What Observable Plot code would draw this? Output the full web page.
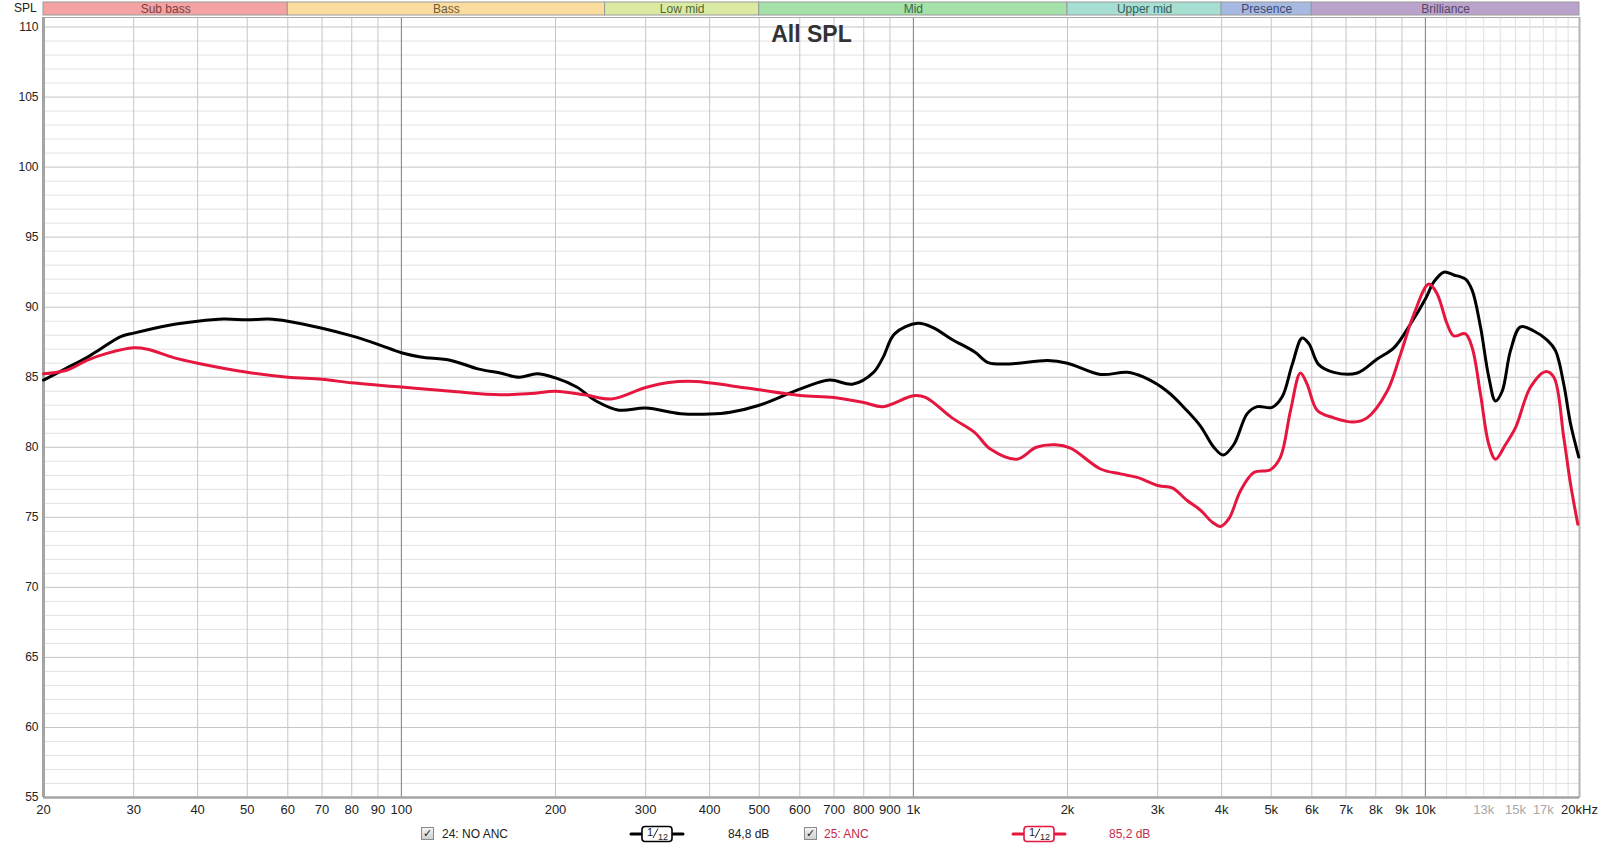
<!DOCTYPE html>
<html>
<head>
<meta charset="utf-8">
<script src="https://cdn.jsdelivr.net/npm/d3@7"></script>
<script src="https://cdn.jsdelivr.net/npm/@observablehq/plot@0.6"></script>
<style>
  html, body { margin: 0; padding: 0; background: #fff; }
  #wrap { position: relative; width: 1600px; height: 848px; overflow: hidden; font-family: "Liberation Sans", Arial, sans-serif; }
  #wrap svg { position: absolute; left: 0; }
  .abs { position: absolute; white-space: nowrap; }
  .cb { position: absolute; width: 11px; height: 11px; border: 1px solid #8a8a8a; background: linear-gradient(#f4f4f4, #cfcfcf); font: bold 11px "DejaVu Sans", sans-serif; line-height: 11px; text-align: center; color: #222; }
  .lg { position: absolute; font-size: 12px; line-height: 14px; }
</style>
</head>
<body>
<div id="wrap"></div>
<script>
// ---------- data ----------
const bandNames  = ["Sub bass", "Bass", "Low mid", "Mid", "Upper mid", "Presence", "Brilliance"];
const bandStart  = [20, 60, 250, 500, 2000, 4000, 6000];
const bandEnd    = [60, 250, 500, 2000, 4000, 6000, 20000];
const bandFill   = ["#f4a2a2", "#f9dc9e", "#dbeaa2", "#a4e2aa", "#a6ded2", "#a6b9e0", "#b9a3cb"];
const bandText   = ["#7a4040", "#6e5c38", "#506838", "#3e6446", "#355c58", "#3e4a72", "#5a4468"];

const yTicks = [55, 60, 65, 70, 75, 80, 85, 90, 95, 100, 105, 110];
const xTickValues = [20, 30, 40, 50, 60, 70, 80, 90, 100, 200, 300, 400, 500, 600, 700, 800, 900,
                     1000, 2000, 3000, 4000, 5000, 6000, 7000, 8000, 9000, 10000, 20000];
const xTickLabels = ["20", "30", "40", "50", "60", "70", "80", "90", "100", "200", "300", "400", "500", "600", "700", "800", "900",
                     "1k", "2k", "3k", "4k", "5k", "6k", "7k", "8k", "9k", "10k", "20kHz"];
const xGrayTickValues = [13000, 15000, 17000];
const xGrayTickLabels = ["13k", "15k", "17k"];

const gridMinorX = [20, 30, 40, 50, 60, 70, 80, 90, 200, 300, 400, 500, 600, 700, 800, 900,
                    2000, 3000, 4000, 5000, 6000, 7000, 8000, 9000];
const gridDecadeX = [100, 1000, 10000];
const gridFineX = [11000, 12000, 13000, 14000, 15000, 16000, 17000, 18000, 19000];

// 24: NO ANC (black)
const freqNoAnc = [20, 22.2, 24.3, 25.8, 28.3, 30, 35, 40, 45, 50, 55, 60, 70, 80, 90, 100, 109, 125, 141, 156,
  170, 184, 200, 220, 240, 266, 300, 351, 400, 439, 500, 600, 686, 760, 836, 872, 919, 1019, 1092, 1190,
  1318, 1400, 1540, 1830, 2000, 2320, 2616, 2818, 3130, 3426, 3640, 3862, 4028, 4226, 4488, 4694, 5021,
  5252, 5494, 5745, 5922, 6191, 6624, 7358, 8052, 8680, 9354, 10006, 10388, 10866, 11366, 11976, 12344,
  12812, 13302, 13708, 14126, 14664, 15340, 16288, 17296, 17954, 18634, 19206, 19936];
const splNoAnc = [84.8, 85.65, 86.4, 87.0, 87.9, 88.15, 88.7, 89.0, 89.15, 89.1, 89.15, 89.0, 88.5, 87.95, 87.35, 86.75, 86.45, 86.2, 85.6, 85.3,
  85.0, 85.25, 84.95, 84.3, 83.3, 82.65, 82.8, 82.4, 82.37, 82.5, 83.0, 84.15, 84.8, 84.5, 85.35, 86.4, 88.1, 88.85, 88.55, 87.7,
  86.8, 86.05, 85.95, 86.2, 86.0, 85.2, 85.35, 85.0, 84.0, 82.6, 81.5, 80.0, 79.45, 80.2, 82.4, 82.9, 82.85,
  83.6, 85.9, 87.8, 87.4, 85.9, 85.35, 85.3, 86.3, 87.1, 88.8, 90.6, 91.8, 92.5, 92.3, 92.0, 91.2,
  88.6, 85.0, 83.3, 84.0, 86.9, 88.6, 88.3, 87.65, 86.9, 84.5, 81.7, 79.3];

// 25: ANC (red)
const freqAnc = [20, 22.2, 24.3, 26.6, 30, 31.9, 35.9, 40, 50, 60, 70, 80, 100, 125, 156, 179, 200, 228, 257, 300,
  333, 376, 439, 500, 600, 700, 800, 872, 1000, 1056, 1190, 1318, 1414, 1594, 1738, 1894, 2028, 2320, 2538,
  2736, 3016, 3203, 3426, 3640, 3835, 3981, 4133, 4355, 4623, 4982, 5212, 5451, 5702, 5876, 6146, 6624,
  7246, 7694, 8420, 8944, 9496, 10156, 10544, 11030, 11366, 11976, 12344, 12812, 13302, 13708, 14340,
  14998, 16048, 17168, 17820, 18634, 19206, 19850];
const splAnc = [85.25, 85.5, 86.2, 86.7, 87.1, 87.0, 86.4, 86.0, 85.35, 85.0, 84.85, 84.6, 84.3, 84.0, 83.75, 83.84, 84.0, 83.75, 83.45, 84.27,
  84.63, 84.7, 84.4, 84.1, 83.7, 83.56, 83.2, 82.9, 83.68, 83.56, 82.1, 81.05, 79.87, 79.15, 80.0, 80.18, 79.94, 78.45, 78.1,
  77.85, 77.25, 77.1, 76.2, 75.5, 74.65, 74.35, 74.9, 76.9, 78.2, 78.4, 79.3, 82.6, 85.3, 84.5, 82.65, 82.1,
  81.8, 82.1, 84.0, 86.65, 89.5, 91.65, 90.95, 88.8, 87.95, 88.1, 87.1, 83.8, 80.2, 79.15, 80.2,
  81.4, 84.3, 85.4, 85.0, 80.7, 77.4, 74.5];

const seriesNames = ["24: NO ANC", "25: ANC"];
const seriesColors = ["#000000", "#e5173f"];
const seriesTextColors = ["#222222", "#c42a4e"];
const seriesLevels = ["84,8 dB", "85,2 dB"];

// ---------- build tables ----------
const noAnc = freqNoAnc.map((f, i) => ({f, db: splNoAnc[i]}));
const anc = freqAnc.map((f, i) => ({f, db: splAnc[i]}));
const bands = bandNames.map((name, i) => ({name, x1: bandStart[i], x2: bandEnd[i], fill: bandFill[i], tc: bandText[i], xm: Math.sqrt(bandStart[i] * bandEnd[i])}));
const minorDb = d3.range(55, 111).filter(v => v % 5 !== 0);
const xLabels = xTickValues.map((v, i) => ({v, t: xTickLabels[i], c: "#222"}))
  .concat(xGrayTickValues.map((v, i) => ({v, t: xGrayTickLabels[i], c: "#a8a8a8"})));

const M = {marginLeft: 43, marginRight: 21};
const xScale = {type: "log", domain: [20, 20000]};
const wrap = document.getElementById("wrap");
const FONT = "Liberation Sans, Arial, sans-serif";

// ---------- main chart ----------
const main = Plot.plot({
  width: 1600, height: 810, ...M, marginTop: 1, marginBottom: 29,
  style: {fontFamily: FONT, background: "transparent", overflow: "visible"},
  x: {...xScale, axis: null},
  y: {domain: [55, 110.68], axis: null},
  marks: [
    Plot.ruleY(minorDb, {stroke: "#e2e2e2", strokeWidth: 1}),
    Plot.ruleY(yTicks, {stroke: "#c4c4c4", strokeWidth: 1}),
    Plot.ruleX(gridFineX, {stroke: "#e0e0e0", strokeWidth: 1}),
    Plot.ruleX(gridMinorX, {stroke: "#c6c6c6", strokeWidth: 1}),
    Plot.ruleX(gridDecadeX, {stroke: "#7c7c7c", strokeWidth: 1}),
    Plot.frame({stroke: "#a8a8a8", strokeWidth: 1}),
    Plot.ruleX([20], {stroke: "#a4a4a4", strokeWidth: 3}),
    Plot.ruleX([20000], {stroke: "#b4b4b4", strokeWidth: 2}),
    Plot.ruleY([55], {stroke: "#a4a4a4", strokeWidth: 2.5}),
    Plot.axisY({ticks: yTicks, tickSize: 0, tickPadding: 5, fontSize: 12, fill: "#222", label: null}),
    Plot.text(xLabels, {x: "v", text: "t", fill: "c", frameAnchor: "bottom", lineAnchor: "top", dy: 7, fontSize: 13}),
    Plot.text(["All SPL"], {frameAnchor: "top", lineAnchor: "top", dy: 8, fontSize: 23, fontWeight: "bold", fill: "#333"}),
    Plot.line(noAnc, {x: "f", y: "db", stroke: seriesColors[0], strokeWidth: 3, curve: "catmull-rom"}),
    Plot.line(anc, {x: "f", y: "db", stroke: seriesColors[1], strokeWidth: 3, curve: "catmull-rom"})
  ]
});
main.style.top = "16px";
wrap.appendChild(main);

// ---------- band header ----------
const header = Plot.plot({
  width: 1600, height: 16, ...M, marginTop: 2, marginBottom: 1,
  style: {fontFamily: FONT, background: "transparent", overflow: "visible"},
  x: {...xScale, axis: null},
  y: {axis: null},
  marks: [
    Plot.rect(bands, {x1: "x1", x2: "x2", fill: "fill", stroke: "#9a9a9a", strokeWidth: 1}),
    Plot.text(bands, {x: "xm", text: "name", fill: "tc", fontSize: 12, frameAnchor: "middle"})
  ]
});
header.style.top = "0px";
wrap.appendChild(header);

// SPL label
const spl = document.createElement("div");
spl.className = "abs";
spl.style.cssText = "left:14px;top:1px;font-size:12px;color:#222;line-height:14px;";
spl.textContent = "SPL";
wrap.appendChild(spl);

// ---------- legend ----------
function symbol(color, left) {
  const ns = "http://www.w3.org/2000/svg";
  const s = document.createElementNS(ns, "svg");
  s.setAttribute("width", 56); s.setAttribute("height", 18);
  s.style.left = left + "px"; s.style.top = "825px";
  s.innerHTML = `<line x1="2" x2="54" y1="9" y2="9" stroke="${color}" stroke-width="3" stroke-linecap="round"/>
    <rect x="13" y="1.5" width="30" height="15" rx="3" fill="#fff" stroke="${color}" stroke-width="1.6"/>
    <text x="18" y="11" font-size="11" font-family="Liberation Sans, Arial" fill="#222">1</text>
    <line x1="24" y1="13" x2="29" y2="3.5" stroke="#222" stroke-width="1"/>
    <text x="29" y="15" font-size="9" font-family="Liberation Sans, Arial" fill="#222">12</text>`;
  wrap.appendChild(s);
}
function legendText(txt, left, color) {
  const d = document.createElement("div");
  d.className = "lg"; d.style.left = left + "px"; d.style.top = "827px"; d.style.color = color;
  d.textContent = txt; wrap.appendChild(d);
}
function checkbox(left) {
  const d = document.createElement("div");
  d.className = "cb"; d.style.left = left + "px"; d.style.top = "827px";
  d.textContent = "✓"; wrap.appendChild(d);
}
checkbox(421); legendText(seriesNames[0], 442, seriesTextColors[0]);
symbol(seriesColors[0], 629); legendText(seriesLevels[0], 728, seriesTextColors[0]);
checkbox(804); legendText(seriesNames[1], 824, seriesTextColors[1]);
symbol(seriesColors[1], 1011); legendText(seriesLevels[1], 1109, seriesTextColors[1]);
</script>
</body>
</html>
